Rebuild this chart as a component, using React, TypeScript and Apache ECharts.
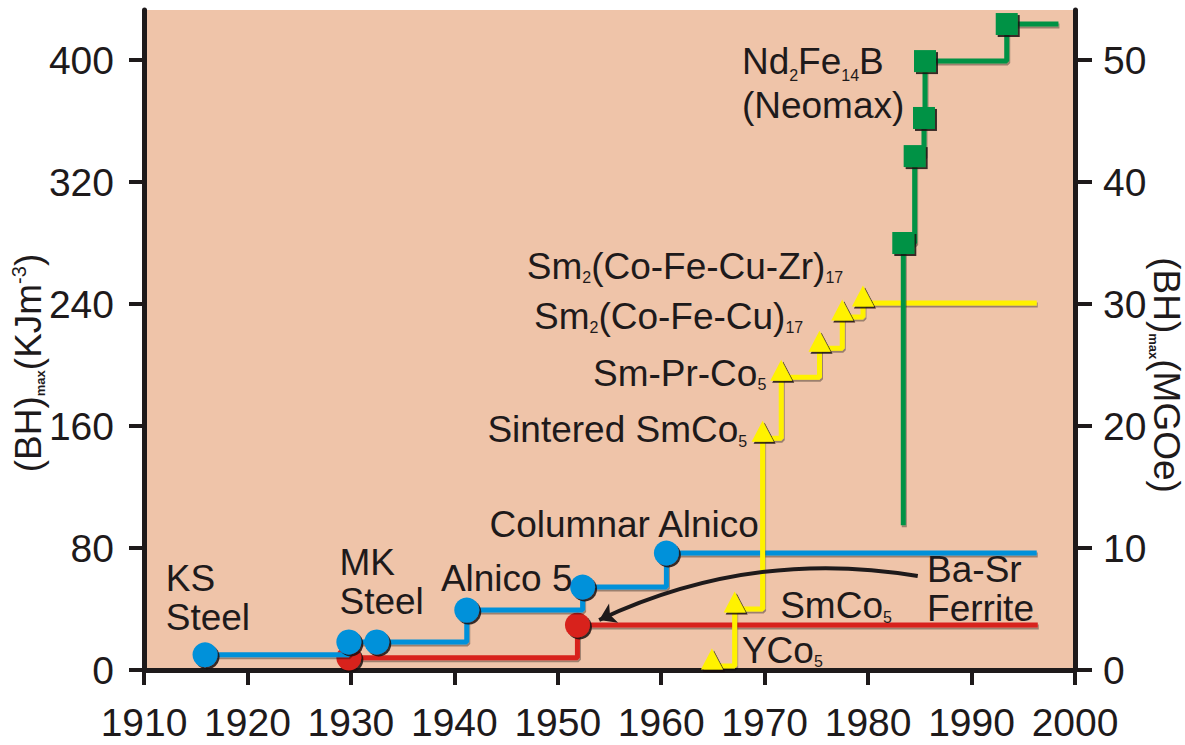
import React, { useEffect, useRef } from 'react';
import * as echarts from 'echarts';

const FONT = "'Liberation Sans', Arial, sans-serif";
const INK = '#1E1A1B';
const BG = '#EFC4A9';

// axis ticks
const kjTicks = [0, 80, 160, 240, 320, 400];
const mgoeTicks = [0, 10, 20, 30, 40, 50];
const KJ_MAX = 432.8;
const MGOE_MAX = KJ_MAX / 8;

// KS steel -> MK steel -> Alnico family (blue)
const steelYears = [1915.9, 1929.8, 1932.5, 1941.2, 1952.4, 1960.5, 1996.3];
const steelValues = [10, 18.4, 18.4, 39.3, 54.4, 76.7, 76.7];

// Ba-Sr ferrite (red)
const ferriteYears = [1929.8, 1951.9, 1996.4];
const ferriteValues = [8, 29.5, 29.5];

// rare-earth cobalt (yellow)
const cobaltYears = [1964.9, 1967.1, 1969.8, 1971.6, 1975.3, 1977.5, 1979.5, 1996.3];
const cobaltValues = [2.6, 40, 152, 192, 211, 231.5, 240.6, 240.6];

// Nd2Fe14B (green)
const ndfebYears = [1983.4, 1983.4, 1984.5, 1985.4, 1985.5, 1993.4, 1998.4];
const ndfebValues = [95, 280, 337, 362, 399.3, 423.6, 423.6];

// Ba-Sr ferrite arrow
const arrowFrom = [1984.8, 61.6];
const arrowTo = [1954.0, 32.8];

// annotations
const noteLabels = [
  '{t|KS}\n{t|Steel}',
  '{t|MK}\n{t|Steel}',
  '{t|Alnico 5}',
  '{t|Columnar Alnico}',
  '{t|Ba-Sr}\n{t|Ferrite}',
  '{t|SmCo}{s|5}',
  '{t|YCo}{s|5}',
  '{t|Sintered SmCo}{s|5}',
  '{t|Sm-Pr-Co}{s|5}',
  '{t|Sm}{s|2}{t|(Co-Fe-Cu)}{s|17}',
  '{t|Sm}{s|2}{t|(Co-Fe-Cu-Zr)}{s|17}',
  '{n|Nd}{s|2}{n|Fe}{s|14}{n|B}\n{n|(Neomax)}',
];
const noteYears = [1912.1, 1928.9, 1938.7, 1943.4, 1985.7, 1971.5, 1967.8, 1943.2, 1953.4, 1947.7, 1947.0, 1967.8];
const noteValues = [47.2, 57.7, 60.3, 95.7, 53.1, 42, 13.1, 157.4, 194.7, 232.1, 264.9, 384.9];

function stepData(xs: number[], ys: number[], noSymbol: number[]) {
  return xs.map((x, i) =>
    noSymbol.includes(i) ? { value: [x, ys[i]], symbol: 'none' } : { value: [x, ys[i]] }
  );
}

const markerShadow = { shadowColor: 'rgba(25,15,15,0.85)', shadowOffsetX: 2, shadowOffsetY: 2, shadowBlur: 0 };
const lineShadow = { shadowColor: 'rgba(0,0,0,0.35)', shadowOffsetX: 1, shadowOffsetY: 2, shadowBlur: 0 };

const noteRich = {
  t: { fontFamily: FONT, fontSize: 37, fill: INK, color: INK, lineHeight: 39 },
  n: { fontFamily: FONT, fontSize: 37, fill: INK, color: INK, lineHeight: 44 },
  s: { fontFamily: FONT, fontSize: 16, fill: INK, color: INK, lineHeight: 4, verticalAlign: 'bottom' },
};

export default function App() {
  const ref = useRef<HTMLDivElement>(null);
  useEffect(() => {
    if (!ref.current) return;
    const chart = echarts.init(ref.current, null, { renderer: 'svg' });
    const axisText = { fontFamily: FONT, fontSize: 39, color: INK, lineHeight: 39 };
    const axisNames = [
      {
        type: 'text', id: 'nameLeft', x: 28, y: 363, rotation: Math.PI / 2, z: 100,
        style: {
          text: '{a|(BH)}{m|max}{a|(KJm}{p|-3}{a|)}',
          align: 'center', verticalAlign: 'middle', fill: INK,
          rich: {
            a: { fontFamily: FONT, fontSize: 37, fill: INK, color: INK, lineHeight: 38 },
            m: { fontFamily: FONT, fontSize: 13, fontWeight: 'bold', fill: INK, color: INK, lineHeight: 6, verticalAlign: 'bottom' },
            p: { fontFamily: FONT, fontSize: 20, fill: INK, color: INK, lineHeight: 32, verticalAlign: 'top' },
          },
        },
      },
      {
        type: 'text', id: 'nameRight', x: 1166, y: 375, rotation: -Math.PI / 2, z: 100,
        style: {
          text: '{a|(BH)}{m|max}{a|(MGOe)}',
          align: 'center', verticalAlign: 'middle', fill: INK,
          rich: {
            a: { fontFamily: FONT, fontSize: 37, fill: INK, color: INK, lineHeight: 38 },
            m: { fontFamily: FONT, fontSize: 13, fontWeight: 'bold', fill: INK, color: INK, lineHeight: 6, verticalAlign: 'bottom' },
          },
        },
      },
    ];
    const option: any = {
      animation: false,
      grid: { left: 144, right: 110, top: 10, bottom: 75, show: true, backgroundColor: BG, borderWidth: 0 },
      xAxis: {
        type: 'value', min: 1910, max: 2000, interval: 10,
        axisLine: { show: true, lineStyle: { color: INK, width: 5 } },
        axisTick: { show: true, length: 15, lineStyle: { color: INK, width: 4 } },
        axisLabel: { ...axisText, margin: 33, showMinLabel: true, showMaxLabel: true, formatter: (v: number) => String(v) },
        splitLine: { show: false },
      },
      yAxis: [
        {
          type: 'value', min: 0, max: KJ_MAX, position: 'left',
          axisLine: { show: true, lineStyle: { color: INK, width: 5 } },
          axisTick: { show: true, length: 15, customValues: kjTicks, lineStyle: { color: INK, width: 4 } },
          axisLabel: { ...axisText, margin: 30, customValues: kjTicks, formatter: (v: number) => String(v) },
          splitLine: { show: false },
        },
        {
          type: 'value', min: 0, max: MGOE_MAX, position: 'right',
          axisLine: { show: true, lineStyle: { color: INK, width: 5 } },
          axisTick: { show: true, length: 17, customValues: mgoeTicks, lineStyle: { color: INK, width: 4 } },
          axisLabel: { ...axisText, margin: 28, customValues: mgoeTicks, formatter: (v: number) => String(v) },
          splitLine: { show: false },
        },
      ],
      series: [
        {
          name: 'Ba-Sr Ferrite', type: 'line', step: 'end', z: 2,
          data: stepData(ferriteYears, ferriteValues, [ferriteYears.length - 1]),
          symbol: 'circle', symbolSize: 25,
          lineStyle: { color: '#D8241E', width: 5, ...lineShadow },
          itemStyle: { color: '#D8241E', ...markerShadow },
        },
        {
          name: 'Steel / Alnico', type: 'line', step: 'end', z: 3,
          data: stepData(steelYears, steelValues, [steelYears.length - 1]),
          symbol: 'circle', symbolSize: 25,
          lineStyle: { color: '#0091DA', width: 5, ...lineShadow },
          itemStyle: { color: '#0091DA', ...markerShadow },
        },
        {
          name: 'Sm-Co', type: 'line', step: 'end', z: 4,
          data: stepData(cobaltYears, cobaltValues, [cobaltYears.length - 1]),
          symbol: 'triangle', symbolSize: [22, 21], symbolOffset: [0, -7],
          lineStyle: { color: '#FFF200', width: 5, ...lineShadow },
          itemStyle: { color: '#FFF200', ...markerShadow },
        },
        {
          name: 'Nd-Fe-B', type: 'line', step: 'end', z: 5,
          data: stepData(ndfebYears, ndfebValues, [0, ndfebYears.length - 1]),
          symbol: 'rect', symbolSize: 22,
          lineStyle: { color: '#009245', width: 5, ...lineShadow },
          itemStyle: { color: '#009245', ...markerShadow },
        },
        {
          name: 'arrow', type: 'lines', coordinateSystem: 'cartesian2d', z: 6, silent: true,
          symbol: ['none', 'arrow'], symbolSize: 16,
          lineStyle: { color: INK, width: 4, curveness: -0.157, opacity: 1 },
          data: [{ coords: [arrowFrom, arrowTo] }],
        },
      ],
      graphic: axisNames,
    };
    chart.setOption(option);
    const notes = noteYears.map((x, i) => {
      const p = chart.convertToPixel({ xAxisIndex: 0, yAxisIndex: 0 }, [x, noteValues[i]]) as number[];
      return {
        type: 'text', id: 'note' + i, x: p[0], y: p[1], z: 100, silent: true,
        style: { text: noteLabels[i], align: 'left', verticalAlign: 'middle', fill: INK, rich: noteRich },
      };
    });
    chart.setOption({ graphic: [...axisNames, ...notes] });
    return () => chart.dispose();
  }, []);
  return <div ref={ref} style={{ position: 'absolute', left: 0, top: 0, width: 1185, height: 745 }} />;
}
